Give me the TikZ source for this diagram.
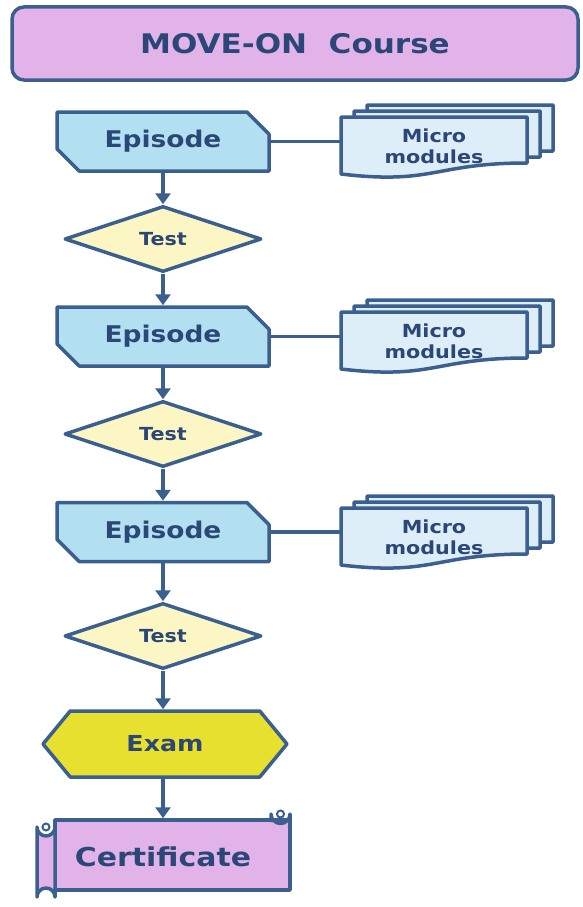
\documentclass[tikz,border=0pt]{standalone}
\usepackage{fontspec}
\setmainfont{DejaVu Sans}[FakeStretch=1.15]
\usetikzlibrary{shapes.geometric,shapes.misc,shapes.symbols,arrows.meta}
\definecolor{bord}{HTML}{3B5F8F}
\definecolor{txt}{HTML}{2B4777}
\definecolor{lav}{HTML}{E2B3E8}
\definecolor{epi}{HTML}{B3E0F0}
\definecolor{tst}{HTML}{FBF6C3}
\definecolor{exm}{HTML}{E8E02E}
\definecolor{mic}{HTML}{DDEEF8}
\newcommand{\docpath}[2]{% left x, top y
  (#1,#2) -- ({#1+186},#2) -- ({#1+186},{#2+46}) .. controls ({#1+93},{#2+46}) and ({#1+93},{#2+68}) .. (#1,{#2+57}) -- cycle}
\begin{document}
\begin{tikzpicture}[x=1pt,y=-1pt,
  outl/.style={draw=bord,line width=3.5pt,line join=round},
  lbl/.style={text=txt,font=\bfseries},
  arr/.style={draw=bord,line width=3.5pt,-{Triangle[width=15pt,length=11pt]}},
  link/.style={draw=bord,line width=3.5pt},
  titlebox/.style={outl,fill=lav,rounded corners=12pt,minimum width=566pt,minimum height=73pt,lbl,font=\bfseries\fontsize{27}{30}\selectfont},
  epibox/.style={outl,fill=epi,chamfered rectangle,chamfered rectangle corners={north east,south west},chamfered rectangle xsep=16pt,chamfered rectangle ysep=11pt,minimum width=212pt,minimum height=59pt,inner sep=0pt,lbl,font=\bfseries\fontsize{23}{26}\selectfont},
  testbox/.style={outl,fill=tst,diamond,aspect=3,minimum width=197pt,minimum height=66pt,inner sep=0pt,lbl,font=\bfseries\fontsize{18}{20}\selectfont},
  exambox/.style={outl,fill=exm,signal,signal to=east and west,signal pointer angle=101,minimum width=244pt,minimum height=66pt,inner sep=0pt,lbl,font=\bfseries\fontsize{22}{24}\selectfont},
  doc/.style={outl,fill=mic},
  microtxt/.style={lbl,align=center,minimum width=186pt,minimum height=46pt,inner sep=0pt,font=\bfseries\fontsize{18}{21}\selectfont},
  scroll/.style={outl,fill=lav}
]
\useasboundingbox (0,0) rectangle (583,907);

\node[titlebox] (title) at (295,43.5) {MOVE-ON\ \ Course};

% Episodes
\node[epibox] (ep1) at (163,141.5) {Episode};
\node[epibox] (ep2) at (163,336.5) {Episode};
\node[epibox] (ep3) at (163,532) {Episode};

% Tests
\node[testbox] (t1) at (163,239) {Test};
\node[testbox] (t2) at (163,434) {Test};
\node[testbox] (t3) at (163,636) {Test};

% Exam
\node[exambox] (exam) at (165,744) {Exam};

% Micro modules stacks
\foreach \dy in {0,195,391}{
  \path[doc] \docpath{367}{105+\dy};
  \path[doc] \docpath{354}{111+\dy};
  \path[doc] \docpath{341}{117+\dy};
}
\node[microtxt] (mm1) at (434,146) {Micro\\modules};
\node[microtxt] (mm2) at (434,341) {Micro\\modules};
\node[microtxt] (mm3) at (434,537) {Micro\\modules};

\draw[link] (ep1.east) -- (ep1.east -| mm1.west);
\draw[link] (ep2.east) -- (ep2.east -| mm2.west);
\draw[link] (ep3.east) -- (ep3.east -| mm3.west);

% Certificate scroll
\node[outl,fill=lav,minimum width=235pt,minimum height=70pt,inner sep=0pt] (cert) at (172.5,855) {};
\path[scroll] (271,822) -- (271,814) arc[start angle=180,end angle=0,radius=9.5] -- (290,822);
\draw[bord,line width=2pt] (280.5,814) circle[radius=3.5];
\path[scroll] (37,827) -- (37,897) arc[start angle=180,end angle=360,radius=9] -- (55,827) arc[start angle=0,end angle=180,radius=9] -- cycle;
\draw[bord,line width=2pt] (46,827) circle[radius=3.5];
\node[lbl,font=\bfseries\fontsize{26}{28}\selectfont] (certtext) at (163,857) {Certificate};

% Arrows
\draw[arr] (ep1.south) -- (t1.north);
\draw[arr] (t1.south) -- (ep2.north);
\draw[arr] (ep2.south) -- (t2.north);
\draw[arr] (t2.south) -- (ep3.north);
\draw[arr] (ep3.south) -- (t3.north);
\draw[arr] (t3.south) -- (t3.south |- exam.north);
\draw[arr] (exam.south -| t3.south) -- (t3.south |- cert.north);
\end{tikzpicture}
\end{document}
